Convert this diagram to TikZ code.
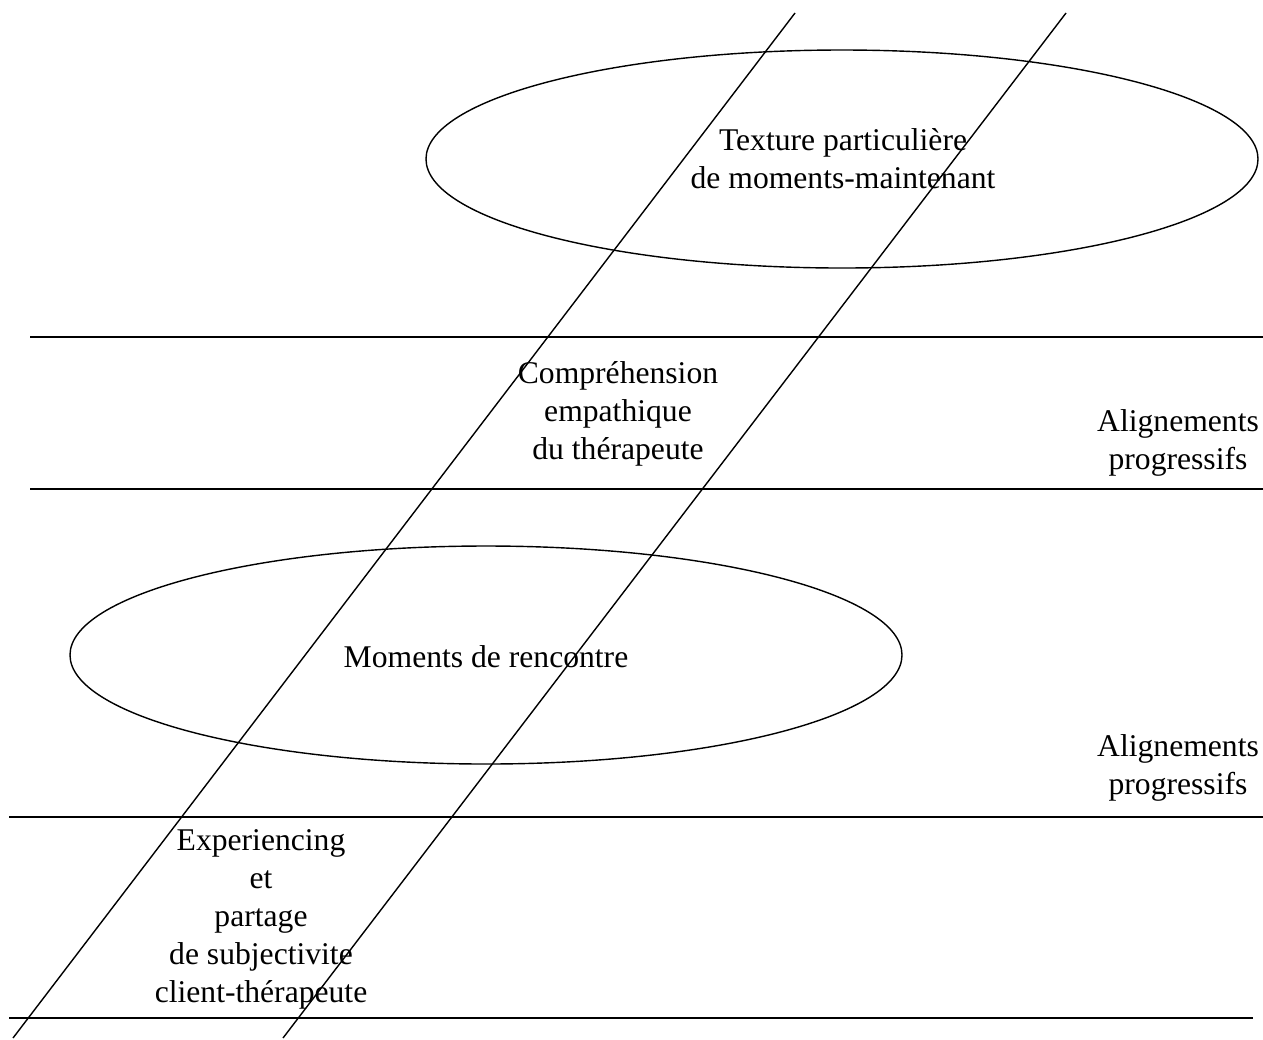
\documentclass[tikz,border=0pt]{standalone}
\usepackage{fontspec}
\setmainfont{Liberation Serif}
\usetikzlibrary{shapes.geometric}

\begin{document}
\begin{tikzpicture}[x=0.02cm,y=-0.02cm,line width=0.8pt,
  label/.style={align=center,font=\fontsize{18}{21.6}\selectfont,inner sep=0pt}]
\useasboundingbox (0,0) rectangle (1263,1039);

\coordinate (L1) at (795,13);
\coordinate (L2) at (13,1038);
\coordinate (R1) at (1066,13);
\coordinate (R2) at (283,1038);

\coordinate (H1a) at (30,337);
\coordinate (H1b) at (1263,337);
\coordinate (H2a) at (30,489);
\coordinate (H2b) at (1263,489);
\coordinate (H3a) at (9,817);
\coordinate (H3b) at (1263,817);
\coordinate (H4a) at (9,1018);
\coordinate (H4b) at (1253,1018);

% ellipses
\draw (842,159) ellipse (416 and 109);
\draw (486,655) ellipse (416 and 109);

% bands
\draw (H1a) -- (H1b);
\draw (H2a) -- (H2b);
\draw (H3a) -- (H3b);
\draw (H4a) -- (H4b);

% diagonals
\draw (L1) -- (L2);
\draw (R1) -- (R2);

\node[label] (texture) at (843,159) {Texture particulière\\de moments-maintenant};
\node[label] (compr) at (618,414) {Compréhension\\empathique\\du thérapeute};
\node[label] (align1) at (1178,443) {Alignements\\progressifs};
\node[label] (moments) at (486,657) {Moments de rencontre};
\node[label] (align2) at (1178,768) {Alignements\\progressifs};
\node[label] (exper) at (261,919) {Experiencing\\et\\partage\\de subjectivite\\client-thérapeute};
\end{tikzpicture}
\end{document}
